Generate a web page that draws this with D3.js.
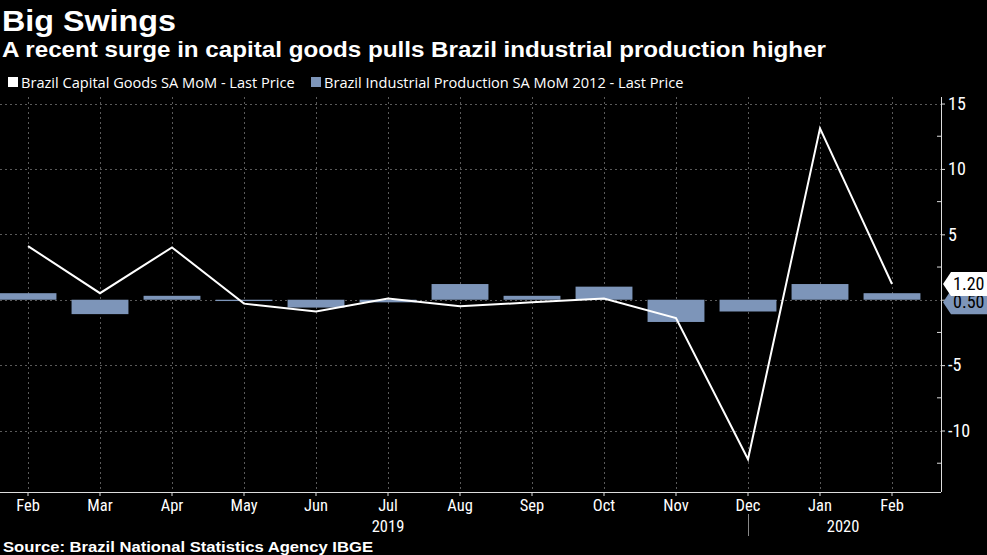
<!DOCTYPE html>
<html>
<head>
<meta charset="utf-8">
<script src="https://cdn.jsdelivr.net/npm/d3@7"></script>
<style>
html,body{margin:0;padding:0;background:#000;}
svg{display:block;}
</style>
</head>
<body>
<svg id="chart" width="987" height="555"></svg>
<script>
const months = ["Feb","Mar","Apr","May","Jun","Jul","Aug","Sep","Oct","Nov","Dec","Jan","Feb"];
const monthKeys = ["2019-02","2019-03","2019-04","2019-05","2019-06","2019-07","2019-08","2019-09","2019-10","2019-11","2019-12","2020-01","2020-02"];
const capitalGoods = [4.1, 0.5, 4.0, -0.3, -0.9, 0.1, -0.5, -0.2, 0.1, -1.4, -12.2, 13.1, 1.2];
const industrialProduction = [0.5, -1.1, 0.3, -0.1, -0.6, -0.2, 1.2, 0.3, 1.0, -1.7, -0.9, 1.2, 0.5];
const yTicks = [-10, -5, 0, 5, 10, 15];
const yMinorTicks = [-12.5, -7.5, -2.5, 2.5, 7.5, 12.5];
const years = [{label:"2019", at:"2019-07", offset:0}, {label:"2020", at:"2020-01", offset:0.32}];
const lastLabels = [{value:0.5, text:"0.50", series:"ip"}, {value:1.2, text:"1.20", series:"cg"}];

const svg = d3.select("#chart");
const W = 987, H = 555;
const plotRight = 941, plotTop = 97, plotBottom = 492;
const barColor = "#7d95b9";
const narrow = "'Liberation Sans Narrow','Arial Narrow','Roboto Condensed',sans-serif";
const sans = "'Open Sans','Noto Sans',sans-serif";
const heavy = "'Liberation Sans',Arial,sans-serif";

svg.append("rect").attr("width", W).attr("height", H).attr("fill", "#000");

const x = d3.scaleBand().domain(monthKeys).range([-8, 928]).padding(0);
const cx = k => x(k) + x.bandwidth() / 2;
const y = d3.scaleLinear().domain([-14.7, 15.5]).range([plotBottom, plotTop]);

// Titles
svg.append("text").attr("x", 2).attr("y", 31).attr("fill", "#fff")
  .attr("font-family", heavy).attr("font-weight", 700).attr("font-size", 30)
  .attr("textLength", 174).attr("lengthAdjust", "spacingAndGlyphs").text("Big Swings");
svg.append("text").attr("x", 2).attr("y", 57).attr("fill", "#fff")
  .attr("font-family", heavy).attr("font-weight", 700).attr("font-size", 21.5)
  .attr("textLength", 824).attr("lengthAdjust", "spacingAndGlyphs")
  .text("A recent surge in capital goods pulls Brazil industrial production higher");

// Legend
const leg = svg.append("g").attr("font-family", sans).attr("font-size", 14.6).attr("fill", "#fff");
leg.append("rect").attr("x", 8).attr("y", 77).attr("width", 10).attr("height", 10).attr("fill", "#fff");
leg.append("text").attr("x", 21).attr("y", 88).text("Brazil Capital Goods SA MoM - Last Price");
leg.append("rect").attr("x", 311).attr("y", 77).attr("width", 10).attr("height", 10).attr("fill", barColor);
leg.append("text").attr("x", 324).attr("y", 88).text("Brazil Industrial Production SA MoM 2012 - Last Price");

// Gridlines
const grid = svg.append("g").attr("stroke", "#5a5a5a").attr("stroke-width", 1).attr("stroke-dasharray", "2,3");
grid.selectAll("line.h").data(yTicks).join("line")
  .attr("x1", 0).attr("x2", plotRight).attr("y1", d => Math.round(y(d)) + 0.5).attr("y2", d => Math.round(y(d)) + 0.5);
grid.selectAll("line.v").data(monthKeys).join("line")
  .attr("y1", plotTop).attr("y2", plotBottom).attr("x1", d => Math.round(cx(d)) + 0.5).attr("x2", d => Math.round(cx(d)) + 0.5);

// Bars
const bw = x.bandwidth() * 0.79;
svg.append("g").selectAll("rect").data(industrialProduction).join("rect")
  .attr("x", (d, i) => cx(monthKeys[i]) - bw / 2)
  .attr("width", bw)
  .attr("y", d => Math.min(y(d), y(0)))
  .attr("height", d => Math.max(1, Math.abs(y(d) - y(0))))
  .attr("fill", barColor);

// Line
const line = d3.line().x((d, i) => cx(monthKeys[i])).y(d => y(d));
svg.append("path").datum(capitalGoods).attr("d", line)
  .attr("fill", "none").attr("stroke", "#fff").attr("stroke-width", 2).attr("stroke-linejoin", "miter");

// Right axis
const yAxis = d3.axisRight(y).tickValues(yTicks).tickSize(4).tickPadding(3).tickFormat(d3.format("d"));
const ya = svg.append("g").attr("transform", `translate(${plotRight},0)`).call(yAxis);
ya.select(".domain").remove();
ya.append("line").attr("x1", 0.5).attr("x2", 0.5).attr("y1", plotTop).attr("y2", plotBottom).attr("stroke", "#ddd");
ya.selectAll(".tick line").attr("stroke", "#ddd");
ya.selectAll(".tick text").attr("fill", "#fff").attr("font-family", narrow).attr("font-size", 18).attr("x", 7)
  .text(d => d < 0 ? "-" + Math.abs(d) : d);
ya.selectAll("line.minor").data(yMinorTicks).join("line").attr("class", "minor")
  .attr("x1", -4).attr("x2", 0).attr("y1", d => y(d)).attr("y2", d => y(d)).attr("stroke", "#ddd");

// Bottom axis
const xAxis = d3.axisBottom(x).tickSize(4).tickPadding(2).tickFormat((d, i) => months[i]);
const xa = svg.append("g").attr("transform", `translate(0,${plotBottom})`).call(xAxis);
xa.select(".domain").remove();
xa.append("line").attr("x1", 0).attr("x2", plotRight).attr("y1", 0.5).attr("y2", 0.5).attr("stroke", "#ddd");
xa.selectAll(".tick line").attr("stroke", "#ddd");
xa.selectAll(".tick text").attr("fill", "#fff").attr("font-family", narrow).attr("font-size", 16.5).attr("dy", "0.8em");

// Year labels & separator
svg.selectAll("text.year").data(years).join("text").attr("class", "year")
  .attr("x", d => cx(d.at) + d.offset * x.bandwidth()).attr("y", 532).attr("text-anchor", "middle")
  .attr("fill", "#fff").attr("font-family", narrow).attr("font-size", 16.5).text(d => d.label);
svg.append("line").attr("x1", Math.round(cx("2019-12")) + 0.5).attr("x2", Math.round(cx("2019-12")) + 0.5)
  .attr("y1", 514).attr("y2", 536).attr("stroke", "#888");

// Source
svg.append("text").attr("x", 3).attr("y", 552).attr("fill", "#fff")
  .attr("font-family", heavy).attr("font-weight", 700).attr("font-size", 14.5)
  .attr("textLength", 370).attr("lengthAdjust", "spacingAndGlyphs")
  .text("Source: Brazil National Statistics Agency IBGE");

// Last value labels
const lab = svg.append("g");
lastLabels.forEach(d => {
  const cy = d.series === "cg" ? y(d.value) : y(d.value) + 9;
  const g = lab.append("g").attr("transform", `translate(${plotRight + 2},${cy})`);
  const fill = d.series === "cg" ? "#fff" : barColor;
  g.append("path").attr("d", "M0,0 L8,-12 L46,-12 L46,12 L8,12 Z").attr("fill", fill);
  g.append("text").attr("x", 10).attr("y", 6).attr("fill", "#000")
    .attr("font-family", narrow).attr("font-size", 18).text(d.text);
});
</script>
</body>
</html>
